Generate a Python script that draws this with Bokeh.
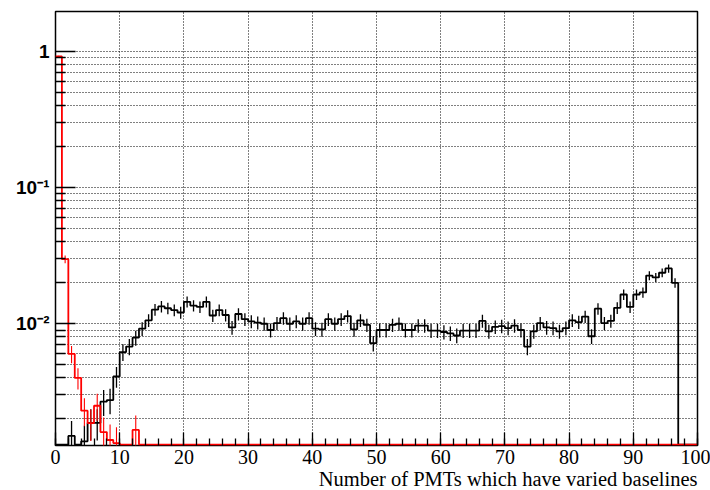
import numpy as np
from bokeh.plotting import figure
from bokeh.models import FixedTicker, Title, CustomJSTickFormatter
from bokeh.embed import file_html
from bokeh.resources import INLINE

# ---------------- data (normalised histograms, 1-unit bins starting at 0) ----------------
x_min, x_max = 0, 100
# black: bins 0 .. 96
black_values = [
    0.0, 0.0, 0.0015, 0.0, 0.00137, 0.00187, 0.00187, 0.00268, 0.00275, 0.0041,
    0.0062, 0.0068, 0.0079, 0.0092, 0.0106, 0.0127, 0.0134, 0.0130, 0.0126, 0.0121,
    0.0145, 0.0136, 0.0133, 0.0145, 0.0115, 0.0126, 0.0116, 0.0094, 0.0118, 0.0108,
    0.0104, 0.0102, 0.0100, 0.0090, 0.0101, 0.0110, 0.0100, 0.0104, 0.0100, 0.0110,
    0.0092, 0.0091, 0.0108, 0.0100, 0.0108, 0.0114, 0.0091, 0.0106, 0.0098, 0.0072,
    0.0090, 0.0090, 0.0098, 0.0100, 0.0090, 0.0090, 0.0097, 0.0097, 0.0089, 0.0089,
    0.0087, 0.0085, 0.0082, 0.0089, 0.0089, 0.0089, 0.0105, 0.0088, 0.0095, 0.0096,
    0.0093, 0.0097, 0.0090, 0.0068, 0.0088, 0.0101, 0.0094, 0.0093, 0.0088, 0.0093,
    0.0106, 0.0103, 0.0113, 0.0081, 0.0129, 0.0101, 0.0105, 0.0131, 0.0164, 0.0133,
    0.0164, 0.0170, 0.0226, 0.0219, 0.0237, 0.0255, 0.0200,
]
# red: bins 0 .. 12
red_values = [0.92, 0.0298, 0.0060, 0.0040, 0.0023, 0.00186, 0.0025, 0.0016,
              0.0014, 0.00133, 0.0, 0.0, 0.00166]
n_events = 8000  # entries used for the Poisson error bars

x_ticks = list(range(0, 101, 10))
x_minor_ticks = list(range(0, 101, 2))
y_ticks = [0.01, 0.1, 1.0]
y_tick_labels = ["10\u207b\u00b2", "10\u207b\u00b9", "1"]
y_minor_ticks = [m * d for d in (0.001, 0.01, 0.1) for m in range(2, 10)]
y_range = (0.001276, 1.967)
x_title = "Number of PMTs which have varied baselines"

# ---------------- figure ----------------
p = figure(
    frame_width=642, frame_height=434,
    min_border_left=55, min_border_right=13, min_border_top=11, min_border_bottom=45,
    x_range=(x_min, x_max), y_range=y_range, y_axis_type="log",
    output_backend="svg", toolbar_location=None,
    background_fill_color="white", border_fill_color="white",
)
p.outline_line_color = "black"
p.outline_line_width = 1.5

n_bins = x_max - x_min
edges = np.arange(x_min, x_max + 1, 1.0)
centers = edges[:-1] + 0.5
floor = y_range[0] * 1.015  # empty bins drawn on the frame bottom


def full(vals):
    a = np.zeros(n_bins)
    a[:len(vals)] = vals
    return a


def draw_hist(vals, color, lw, elw):
    a = full(vals)
    shown = np.where(a > 0, a, floor)
    ys = np.append(shown, shown[-1])
    p.step(edges, ys, mode="after", line_color=color, line_width=lw)
    nz = a > 0
    err = np.sqrt(a[nz] / n_events)
    p.segment(centers[nz], a[nz] - err, centers[nz], a[nz] + err,
              line_color=color, line_width=elw)


draw_hist(black_values, "black", 1.8, 1.3)
draw_hist(red_values, "#ff0000", 1.8, 1.1)

# ---------------- axes ----------------
xa = p.xaxis[0]
xa.ticker = FixedTicker(ticks=x_ticks, minor_ticks=x_minor_ticks)
xa.axis_line_color = None
xa.major_tick_in = 13
xa.major_tick_out = 0
xa.minor_tick_in = 7
xa.minor_tick_out = 0
xa.major_tick_line_color = "black"
xa.minor_tick_line_color = "black"
xa.major_tick_line_width = 1.3
xa.minor_tick_line_width = 1.3
xa.major_label_text_font = "Liberation Serif"
xa.major_label_text_font_size = "20px"
xa.major_label_text_color = "black"
xa.major_label_standoff = 4

ya = p.yaxis[0]
ya.ticker = FixedTicker(ticks=y_ticks, minor_ticks=y_minor_ticks)
ya.formatter = CustomJSTickFormatter(args=dict(tvals=y_ticks, tlabels=y_tick_labels), code="""
let best = 0, bd = 1e9;
for (let i = 0; i < tvals.length; i++) {
  const d = Math.abs(Math.log10(tick) - Math.log10(tvals[i]));
  if (d < bd) { bd = d; best = i; }
}
return tlabels[best];
""")
ya.axis_line_color = None
ya.major_tick_in = 20
ya.major_tick_out = 0
ya.minor_tick_in = 10
ya.minor_tick_out = 0
ya.major_tick_line_color = "black"
ya.minor_tick_line_color = "black"
ya.major_tick_line_width = 1.3
ya.minor_tick_line_width = 1.3
ya.major_label_text_font = "Liberation Sans"
ya.major_label_text_font_style = "bold"
ya.major_label_text_font_size = "19px"
ya.major_label_text_color = "black"
ya.major_label_standoff = 6

# ---------------- grids ----------------
p.xgrid.ticker = FixedTicker(ticks=x_ticks)
p.xgrid.grid_line_color = "black"
p.xgrid.grid_line_dash = "1 2"
p.xgrid.grid_line_width = 1
p.ygrid.grid_line_color = "black"
p.ygrid.grid_line_dash = "1 2"
p.ygrid.grid_line_width = 1
p.ygrid.minor_grid_line_color = "black"
p.ygrid.minor_grid_line_dash = "1 2"
p.ygrid.minor_grid_line_width = 1

# ---------------- x-axis title (right-aligned, below the tick labels) ----------------
p.add_layout(Title(text=x_title, align="right", vertical_align="middle",
                   standoff=0, offset=0,
                   text_font="Liberation Serif", text_font_style="normal",
                   text_font_size="20.5px", text_line_height=0.25,
                   text_color="black"), "below")

open("out.html", "w").write(file_html(p, INLINE))
